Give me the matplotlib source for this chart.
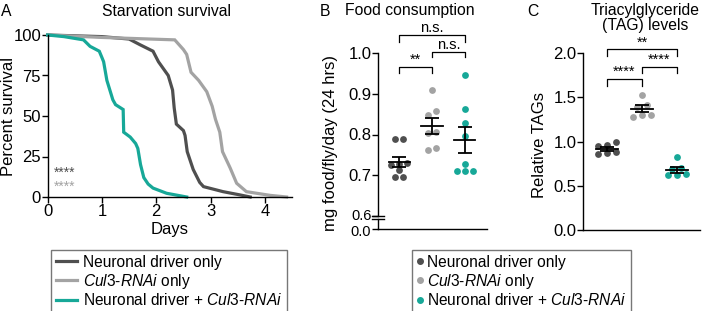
import numpy as np
import matplotlib
matplotlib.use("Agg")
import matplotlib.pyplot as plt
import matplotlib.transforms as mtransforms
from matplotlib.lines import Line2D

plt.rcParams['font.family'] = ['Liberation Sans', 'DejaVu Sans']
plt.rcParams['mathtext.fontset'] = 'custom'
plt.rcParams['mathtext.it'] = 'Liberation Sans:italic'
plt.rcParams['mathtext.rm'] = 'Liberation Sans'

# ---- data ----
labels = ["Neuronal driver only",
          r"$\mathit{Cul3}$-$\mathit{RNAi}$ only",
          r"Neuronal driver + $\mathit{Cul3}$-$\mathit{RNAi}$"]
colors = ["#4f4f4f", "#a3a3a3", "#17a898"]

# A: starvation survival (days, percent)
driver_days = [0, 1.0, 1.5, 1.7, 1.94, 2.04, 2.22, 2.30, 2.33, 2.37, 2.50, 2.53,
               2.57, 2.68, 2.80, 2.87, 3.23, 3.54, 3.73]
driver_pct = [100, 99, 97.5, 94, 90, 83.5, 75, 66, 55, 45, 41, 38,
              28, 17, 9, 6.4, 3.3, 1.3, 0]
rnai_days = [0, 1.0, 2.34, 2.50, 2.56, 2.64, 2.78, 2.93, 3.03, 3.09, 3.17, 3.22,
             3.36, 3.48, 3.66, 3.85, 4.10, 4.40]
rnai_pct = [100, 98.5, 97, 91, 88, 77, 72, 65, 56, 48, 40, 28,
            18, 8.5, 3.3, 2.3, 1, 0]
both_days = [0, 0.3, 0.66, 0.78, 0.95, 1.0, 1.03, 1.09, 1.20, 1.25, 1.39, 1.40,
             1.52, 1.62, 1.66, 1.71, 1.77, 1.85, 1.94, 2.19, 2.56]
both_pct = [100, 99, 97, 93, 90, 86, 83.5, 72, 60, 57, 54, 40,
            37, 33, 30, 20, 12, 8, 5.5, 2.3, 0]

# B: food consumption (mg food/fly/day)
food_driver = [0.788, 0.788, 0.730, 0.728, 0.726, 0.712, 0.696, 0.696]
food_rnai = [0.908, 0.857, 0.848, 0.805, 0.803, 0.762, 0.767]
food_both = [0.945, 0.863, 0.828, 0.797, 0.728, 0.710, 0.710, 0.710]

# C: relative TAGs
tag_driver = [0.99, 0.95, 0.96, 0.86, 0.87, 0.88]
tag_rnai = [1.53, 1.41, 1.39, 1.30, 1.28, 1.30]
tag_both = [0.83, 0.70, 0.69, 0.62, 0.63, 0.62]

W, H = 702, 311
fig = plt.figure(figsize=(W / 100, H / 100), dpi=100)

TICK_FS = 12
LABEL_FS = 12
TITLE_FS = 11.3
LEG_FS = 11.2


def rect(x0, y_top, x1, y_bot):
    return [x0 / W, 1 - y_bot / H, (x1 - x0) / W, (y_bot - y_top) / H]


def style(ax):
    for s in ["top", "right"]:
        ax.spines[s].set_visible(False)
    for s in ["left", "bottom"]:
        ax.spines[s].set_linewidth(1.0)
    ax.tick_params(direction="out", length=4, width=1.0, labelsize=TICK_FS, pad=0.8)


def swarm(values, tol, step):
    vals = np.asarray(values)
    order = np.argsort(vals)
    offs = np.zeros(len(vals))
    rows = []
    for i in order:
        if rows and abs(vals[i] - vals[rows[-1][0]]) < tol:
            rows[-1].append(i)
        else:
            rows.append([i])
    for r in rows:
        n = len(r)
        for k, i in enumerate(r):
            offs[i] = (k - (n - 1) / 2) * step
    return offs


def dotplot(ax, groups, tol, step):
    for i, vals in enumerate(groups):
        x = i + swarm(vals, tol, step)
        ax.scatter(x, vals, s=24, color=colors[i], linewidths=0, zorder=2, clip_on=False)
        m = np.mean(vals)
        se = np.std(vals, ddof=1) / np.sqrt(len(vals))
        ax.plot([i - 0.32, i + 0.32], [m, m], color="black", lw=1.3, zorder=3)
        ax.errorbar(i, m, yerr=se, color="black", lw=1.3, capsize=5, capthick=1.3, zorder=3)


def bracket(ax, x0, x1, y, drop, text):
    ax.plot([x0, x0, x1, x1], [y - drop, y, y, y - drop], color="black", lw=0.9, clip_on=False)
    ax.text((x0 + x1) / 2, y, text, ha="center", va="bottom", fontsize=10.5)


# ---- A ----
ax = fig.add_axes(rect(47.7, 35, 292, 197))
style(ax)
for d, p, c in [(driver_days, driver_pct, colors[0]), (rnai_days, rnai_pct, colors[1]),
                (both_days, both_pct, colors[2])]:
    ax.plot(d, p, color=c, lw=2.3, clip_on=False, solid_joinstyle="miter")
ax.set_xlim(0, 4.5)
ax.set_ylim(0, 100)
ax.set_xticks([0, 1, 2, 3, 4])
ax.set_yticks([0, 25, 50, 75, 100])
ax.set_xlabel("Days", fontsize=LABEL_FS, labelpad=2.5)
fig.text(9 / W, 1 - 116 / H, "Percent survival", rotation=90, ha="center", va="center", fontsize=LABEL_FS)
fig.text(167 / W, 1 - 11 / H, "Starvation survival", ha="center", va="center", fontsize=TITLE_FS)
fig.text(1 / W, 1 - 11 / H, "A", ha="left", va="center", fontsize=TITLE_FS)
fig.text(54 / W, 1 - 173 / H, "****", color=colors[0], fontsize=10, va="center")
fig.text(54 / W, 1 - 187 / H, "****", color=colors[1], fontsize=10, va="center")

fig.legend(handles=[Line2D([], [], color=c, lw=2.3) for c in colors], labels=labels,
           loc="upper left", bbox_to_anchor=(51 / W, 1 - 250 / H), borderaxespad=0,
           fontsize=LEG_FS, frameon=True, fancybox=False, edgecolor="#555555",
           handlelength=1.35, handletextpad=0.4, labelspacing=0.12, borderpad=0.3)

# ---- B ----
axb = fig.add_axes(rect(378, 53, 487, 216))
style(axb)
axb.spines["bottom"].set_visible(False)
axb.tick_params(axis="x", bottom=False, labelbottom=False)
dotplot(axb, [food_driver, food_rnai, food_both], 0.012, 0.25)
axb.set_xlim(-0.64, 2.67)
axb.set_ylim(0.6, 1.0)
axb.set_yticks([0.6, 0.7, 0.8, 0.9, 1.0])
axb.set_yticklabels(["0.6", "0.7", "0.8", "0.9", "1.0"])
bracket(axb, 0, 1, 0.966, 0.015, "**")
bracket(axb, 1, 2, 1.002, 0.012, "n.s.")
bracket(axb, 0, 2, 1.044, 0.017, "n.s.")

axb2 = fig.add_axes(rect(378, 219, 487, 229))
style(axb2)
axb2.set_xlim(-0.64, 2.67)
axb2.set_ylim(0, 1)
axb2.set_yticks([0])
axb2.set_yticklabels(["0.0"])
axb2.tick_params(axis="x", bottom=False, labelbottom=False)
axb2.patch.set_visible(False)
for a, yy in [(axb, 0.0), (axb2, 1.0)]:
    a.plot([-0.055, 0.055], [yy, yy], transform=a.transAxes, color="black", lw=1.0, clip_on=False)
# the two labels around the axis break sit close together; keep them apart
lab06 = axb.get_yticklabels()[0]
lab06.set_fontsize(10.5)
lab06.set_transform(lab06.get_transform() + mtransforms.ScaledTranslation(0, 2 / 100, fig.dpi_scale_trans))
lab00 = axb2.get_yticklabels()[0]
lab00.set_fontsize(10.5)
lab00.set_transform(lab00.get_transform() + mtransforms.ScaledTranslation(0, -2 / 100, fig.dpi_scale_trans))

fig.text(331 / W, 1 - 143 / H, "mg food/fly/day (24 hrs)", rotation=90, ha="center", va="center", fontsize=LABEL_FS)
fig.text(410 / W, 1 - 11 / H, "Food consumption", ha="center", va="center", fontsize=TITLE_FS)
fig.text(325 / W, 1 - 11 / H, "B", ha="center", va="center", fontsize=TITLE_FS)

# ---- C ----
axc = fig.add_axes(rect(583, 53, 700, 230))
style(axc)
axc.tick_params(axis="x", bottom=False, labelbottom=False)
dotplot(axc, [tag_driver, tag_rnai, tag_both], 0.05, 0.26)
axc.set_xlim(-0.69, 2.66)
axc.set_ylim(0, 2.0)
axc.set_yticks([0, 0.5, 1.0, 1.5, 2.0])
axc.set_yticklabels(["0.0", "0.5", "1.0", "1.5", "2.0"])
bracket(axc, 0, 1, 1.706, 0.075, "****")
bracket(axc, 1, 2, 1.845, 0.075, "****")
bracket(axc, 0, 2, 2.04, 0.075, "**")
fig.text(540 / W, 1 - 145 / H, "Relative TAGs", rotation=90, ha="center", va="center", fontsize=LABEL_FS)
fig.text(645 / W, 1 - 18 / H, "Triacylglyceride\n(TAG) levels", ha="center", va="center",
         fontsize=TITLE_FS, linespacing=0.92)
fig.text(533 / W, 1 - 11 / H, "C", ha="center", va="center", fontsize=TITLE_FS)

fig.legend(handles=[Line2D([], [], ls="", marker="o", ms=4, color=c) for c in colors], labels=labels,
           loc="upper left", bbox_to_anchor=(412 / W, 1 - 250 / H), borderaxespad=0,
           fontsize=LEG_FS, frameon=True, fancybox=False, edgecolor="#555555",
           handlelength=0.4, handletextpad=0.25, labelspacing=0.12, borderpad=0.3)

fig.savefig("out.png", dpi=100)
